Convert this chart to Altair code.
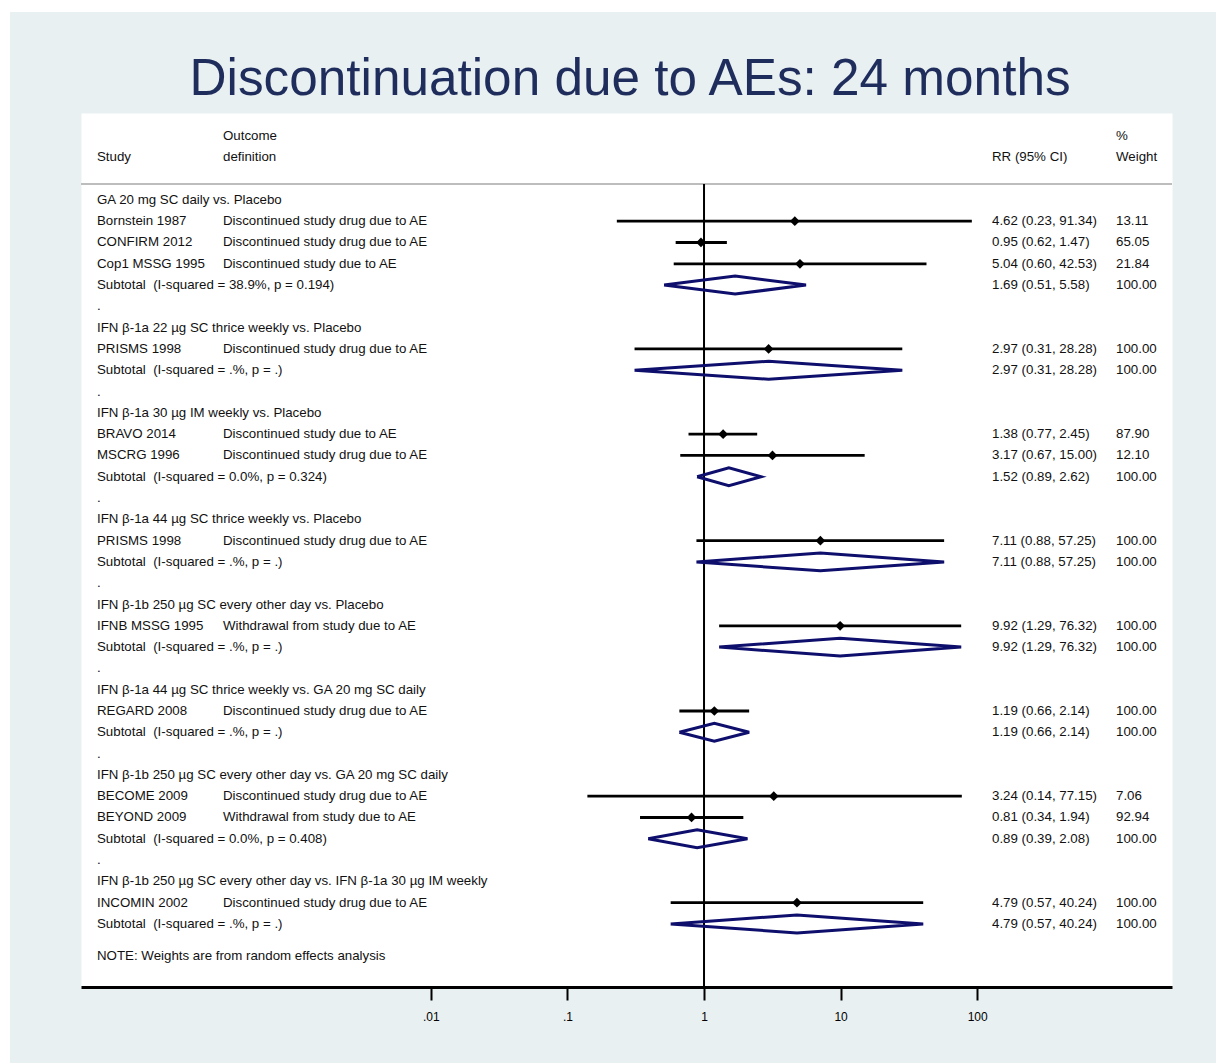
import altair as alt
import pandas as pd

TITLE = "Discontinuation due to AEs: 24 months"

# Comparison groups, in display order
group_titles = [
    "GA 20 mg SC daily vs. Placebo",
    "IFN β-1a 22 µg SC thrice weekly vs. Placebo",
    "IFN β-1a 30 µg IM weekly vs. Placebo",
    "IFN β-1a 44 µg SC thrice weekly vs. Placebo",
    "IFN β-1b 250 µg SC every other day vs. Placebo",
    "IFN β-1a 44 µg SC thrice weekly vs. GA 20 mg SC daily",
    "IFN β-1b 250 µg SC every other day vs. GA 20 mg SC daily",
    "IFN β-1b 250 µg SC every other day vs. IFN β-1a 30 µg IM weekly",
]

# Individual studies
study_group = [0, 0, 0, 1, 2, 2, 3, 4, 5, 6, 6, 7]
study_names = [
    "Bornstein 1987", "CONFIRM 2012", "Cop1 MSSG 1995", "PRISMS 1998",
    "BRAVO 2014", "MSCRG 1996", "PRISMS 1998", "IFNB MSSG 1995",
    "REGARD 2008", "BECOME 2009", "BEYOND 2009", "INCOMIN 2002",
]
outcome_defs = [
    "Discontinued study drug due to AE",
    "Discontinued study drug due to AE",
    "Discontinued study due to AE",
    "Discontinued study drug due to AE",
    "Discontinued study due to AE",
    "Discontinued study drug due to AE",
    "Discontinued study drug due to AE",
    "Withdrawal from study due to AE",
    "Discontinued study drug due to AE",
    "Discontinued study drug due to AE",
    "Withdrawal from study due to AE",
    "Discontinued study drug due to AE",
]
study_rr = [4.62, 0.95, 5.04, 2.97, 1.38, 3.17, 7.11, 9.92, 1.19, 3.24, 0.81, 4.79]
study_lo = [0.23, 0.62, 0.60, 0.31, 0.77, 0.67, 0.88, 1.29, 0.66, 0.14, 0.34, 0.57]
study_hi = [91.34, 1.47, 42.53, 28.28, 2.45, 15.00, 57.25, 76.32, 2.14, 77.15, 1.94, 40.24]
study_weight = [13.11, 65.05, 21.84, 100.00, 87.90, 12.10, 100.00, 100.00, 100.00, 7.06, 92.94, 100.00]

# Pooled (random effects) subtotals, one per group
subtotal_i2 = ["38.9%", ".%", "0.0%", ".%", ".%", ".%", "0.0%", ".%"]
subtotal_p = ["0.194", ".", "0.324", ".", ".", ".", "0.408", "."]
subtotal_rr = [1.69, 2.97, 1.52, 7.11, 9.92, 1.19, 0.89, 4.79]
subtotal_lo = [0.51, 0.31, 0.89, 0.88, 1.29, 0.66, 0.39, 0.57]
subtotal_hi = [5.58, 28.28, 2.62, 57.25, 76.32, 2.14, 2.08, 40.24]
subtotal_weight = [100.00] * 8

tick_values = [0.01, 0.1, 1, 10, 100]
tick_labels = [".01", ".1", "1", "10", "100"]

NOTE = "NOTE: Weights are from random effects analysis"

# ---- layout / style -------------------------------------------------------
PLOT_W, PLOT_H = 1091, 874
FONT = "Liberation Sans"
FS = 13.3
TEXT_COLOR = "#111111"
NAVY = "#0e0e6c"
BG = "#e9f0f2"
COL_STUDY, COL_OUTCOME, COL_RR, COL_WT = 16, 142, 911, 1035
DIAMOND_HALF = 0.42
HEADER_RULE_ROW = -0.75
Y_MIN, Y_MAX = -4.08, 36.96

# ---- build table rows -----------------------------------------------------
def fmt_ci(est, lo, hi):
    return f"{est:.2f} ({lo:.2f}, {hi:.2f})"

rows = []          # text rows
study_rows = []    # CI lines + point estimates
sub_rows = []      # pooled diamonds
r = 0
for g, title in enumerate(group_titles):
    rows.append(dict(row=r, study=title, outcome="", rr="", wt=""))
    r += 1
    for i, sg in enumerate(study_group):
        if sg != g:
            continue
        rows.append(dict(row=r, study=study_names[i], outcome=outcome_defs[i],
                         rr=fmt_ci(study_rr[i], study_lo[i], study_hi[i]),
                         wt=f"{study_weight[i]:.2f}"))
        study_rows.append(dict(row=r, est=study_rr[i], lo=study_lo[i], hi=study_hi[i]))
        r += 1
    label = f"Subtotal\u00a0 (I-squared = {subtotal_i2[g]}, p = {subtotal_p[g]})"
    rows.append(dict(row=r, study=label, outcome="",
                     rr=fmt_ci(subtotal_rr[g], subtotal_lo[g], subtotal_hi[g]),
                     wt=f"{subtotal_weight[g]:.2f}"))
    sub_rows.append(dict(row=r, est=subtotal_rr[g], lo=subtotal_lo[g], hi=subtotal_hi[g], g=g))
    r += 1
    if g < len(group_titles) - 1:
        rows.append(dict(row=r, study=".", outcome="", rr="", wt=""))
        r += 1

# column headers and footnote
rows += [
    dict(row=-2, study="Study", outcome="definition", rr="RR (95% CI)", wt="Weight"),
    dict(row=-3, study="", outcome="Outcome", rr="", wt="%"),
    dict(row=r + 0.5, study=NOTE, outcome="", rr="", wt=""),
]
text_df = pd.DataFrame(rows)
study_df = pd.DataFrame(study_rows)

# diamond outline vertices: lower CI, top, upper CI, bottom, back to lower CI
poly = []
for s in sub_rows:
    pts = [(s["lo"], s["row"]), (s["est"], s["row"] - DIAMOND_HALF),
           (s["hi"], s["row"]), (s["est"], s["row"] + DIAMOND_HALF),
           (s["lo"], s["row"])]
    for k, (xv, yv) in enumerate(pts):
        poly.append(dict(g=s["g"], v=k, x=xv, y=yv))
poly_df = pd.DataFrame(poly)

one = pd.DataFrame({"k": [0]})

# ---- scales / axis --------------------------------------------------------
xscale = alt.Scale(type="log", domain=[10 ** -4.561, 10 ** 3.426], nice=False)
yscale = alt.Scale(domain=[Y_MIN, Y_MAX], reverse=True, nice=False, zero=False)
label_expr = " : ".join(
    f"datum.value == {v} ? '{lab}'" for v, lab in zip(tick_values, tick_labels)
) + " : ''"
x_axis = alt.Axis(
    values=tick_values, labelExpr=label_expr, title=None, grid=False,
    domainColor="black", domainWidth=3, tickColor="black", tickWidth=2,
    tickSize=13, labelFont=FONT, labelFontSize=12, labelColor="black",
    labelPadding=11,
)

# ---- layers ---------------------------------------------------------------
strips = alt.Chart(one).mark_rect(color="white").encode(
    x=alt.value(-81), x2=alt.value(PLOT_W + 44), y=alt.value(-113), y2=alt.value(-101)
) + alt.Chart(one).mark_rect(color="white").encode(
    x=alt.value(-81), x2=alt.value(-71), y=alt.value(-113), y2=alt.value(PLOT_H + 76)
)

header_rule = alt.Chart(one).mark_rule(color="#bdbdbd", strokeWidth=2).encode(
    x=alt.value(0), x2=alt.value(PLOT_W),
    y=alt.datum(HEADER_RULE_ROW, scale=yscale, axis=None),
)

ref_line = alt.Chart(one).mark_rule(color="black", strokeWidth=2).encode(
    x=alt.datum(1, scale=xscale, axis=x_axis),
    y=alt.datum(HEADER_RULE_ROW, scale=yscale, axis=None),
    y2=alt.datum(Y_MAX),
)

ci_lines = alt.Chart(study_df).mark_rule(color="black", strokeWidth=2.8).encode(
    x=alt.X("lo:Q", scale=xscale, axis=x_axis),
    x2="hi:Q",
    y=alt.Y("row:Q", scale=yscale, axis=None),
)

points = alt.Chart(study_df).mark_point(
    shape="diamond", filled=True, color="black", size=95, opacity=1
).encode(
    x=alt.X("est:Q", scale=xscale, axis=x_axis),
    y=alt.Y("row:Q", scale=yscale, axis=None),
)

diamonds = alt.Chart(poly_df).mark_line(color=NAVY, strokeWidth=3).encode(
    x=alt.X("x:Q", scale=xscale, axis=x_axis),
    y=alt.Y("y:Q", scale=yscale, axis=None),
    detail="g:N",
    order="v:Q",
)

def text_col(field, xpos):
    return alt.Chart(text_df).mark_text(
        align="left", baseline="middle", font=FONT, fontSize=FS, color=TEXT_COLOR
    ).encode(
        x=alt.value(xpos),
        y=alt.Y("row:Q", scale=yscale, axis=None),
        text=alt.Text(f"{field}:N"),
    )

title_mark = alt.Chart(pd.DataFrame({"t": [TITLE]})).mark_text(
    align="center", baseline="alphabetic", font=FONT, fontSize=51.3, color="#1f2d5c"
).encode(x=alt.value(549), y=alt.value(-18), text="t:N")

chart = alt.layer(
    strips, header_rule, ref_line, ci_lines, diamonds, points,
    text_col("study", COL_STUDY), text_col("outcome", COL_OUTCOME),
    text_col("rr", COL_RR), text_col("wt", COL_WT),
    title_mark,
).properties(
    width=PLOT_W, height=PLOT_H,
    autosize=alt.AutoSizeParams(type="none"),
    padding={"left": 81, "top": 113, "right": 44, "bottom": 76},
    background=BG,
).configure_view(fill="white", stroke="transparent")

chart.save("out.html", embed_options={"renderer": "svg", "actions": False})
